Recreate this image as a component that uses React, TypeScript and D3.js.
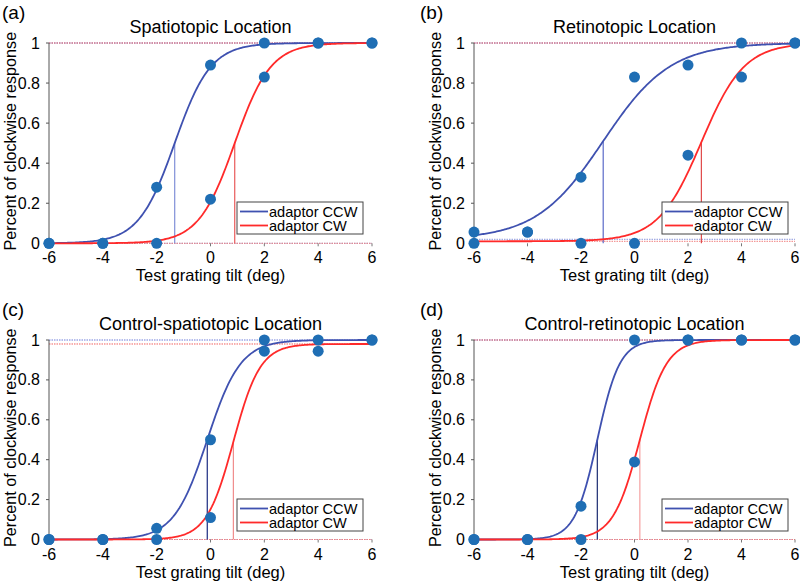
import React from "react";
import * as d3 from "d3";

const xLevels = [-6, -4, -2, 0, 2, 4, 6];
const yTicks = [0, 0.2, 0.4, 0.6, 0.8, 1];
const yTickLabels = ["0", "0.2", "0.4", "0.6", "0.8", "1"];

const panelLetters = ["(a)", "(b)", "(c)", "(d)"];
const panelTitles = ["Spatiotopic Location", "Retinotopic Location", "Control-spatiotopic Location", "Control-retinotopic Location"];

// observed proportions at xLevels
const ccwA = [0, 0, 0.28, 0.89, 1, 1, 1];
const cwA = [0, 0, 0, 0.22, 0.83, 1, 1];
const ccwB = [0.056, 0.056, 0.33, 0.83, 0.89, 1, 1];
const cwB = [0, 0.056, 0, 0, 0.44, 0.83, 1];
const ccwC = [0, 0, 0.056, 0.5, 1, 1, 1];
const cwC = [0, 0, 0, 0.11, 0.944, 0.944, 1];
const ccwD = [0, 0, 0.167, 1, 1, 1, 1];
const cwD = [0, 0, 0, 0.389, 1, 1, 1];
const ccwData = [ccwA, ccwB, ccwC, ccwD];
const cwData = [cwA, cwB, cwC, cwD];

// fitted logistic parameters (PSE, spread, guess rate, lapse rate)
const muCCW = [-1.33, -1.17, -0.12, -1.39];
const muCW = [0.9, 2.5, 0.85, 0.2];
const sCCW = [0.67, 1.25, 0.62, 0.42];
const sCW = [0.67, 0.8, 0.5, 0.5];
const gCCW = [0, 0.02, 0, 0];
const gCW = [0, 0.01, 0, 0];
const lCCW = [0, 0, 0, 0];
const lCW = [0, 0, 0.02, 0];

const legendLabels = ["adaptor CCW", "adaptor CW"];

const BLUE = "#3f51b0";
const RED = "#ff2a2a";
const DOT = "#1f6eb4";
const pseCCWColor = ["#8090d8", "#5a6ac8", "#1a2a80", "#1a2a70"];
const pseCWColor = ["#e85a5a", "#e04848", "#f08c8c", "#f5a0a0"];

const FONT = "'Liberation Sans', Arial, Helvetica, sans-serif";

const offsets = [
  [0, 0],
  [425, 0],
  [0, 297],
  [425, 297],
];

function psy(x: number, mu: number, s: number, g: number, l: number) {
  return g + (1 - g - l) / (1 + Math.exp(-(x - mu) / s));
}

function Panel({ i }: { i: number }) {
  const [ox, oy] = offsets[i];
  const left = 49;
  const right = i % 2 === 0 ? 372 : 370;
  const top = 43;
  const bottom = i < 2 ? 243.3 : 242.5;
  const x = d3.scaleLinear().domain([-6, 6]).range([left, right]);
  const y = d3.scaleLinear().domain([0, 1]).range([bottom, top]);
  const xs = d3.range(-6, 6.0001, 0.05);

  const mk = (mu: number, s: number, g: number, l: number) =>
    d3
      .line<number>()
      .x((d) => x(d))
      .y((d) => y(psy(d, mu, s, g, l)))(xs) as string;

  const ccwPath = mk(muCCW[i], sCCW[i], gCCW[i], lCCW[i]);
  const cwPath = mk(muCW[i], sCW[i], gCW[i], lCW[i]);

  const midX = (left + right) / 2;
  const lgX = 237;
  const lgY = 202;

  return (
    <g transform={`translate(${ox},${oy})`}>
      <text x={i % 2 === 0 ? 2 : -5} y={19} fontSize={19} fontFamily={FONT}>
        {panelLetters[i]}
      </text>
      <text x={midX} y={33} fontSize={18} fontFamily={FONT} textAnchor="middle">
        {panelTitles[i]}
      </text>
      {/* asymptote dotted lines */}
      <line x1={left} x2={right} y1={y(1 - lCCW[i])} y2={y(1 - lCCW[i])} stroke="#6a7ad8" strokeWidth={1} strokeDasharray="1.5,1" />
      <line x1={left} x2={right} y1={y(1 - lCW[i])} y2={y(1 - lCW[i])} stroke="#f06060" strokeWidth={1} strokeDasharray="1.5,1" />
      <line x1={left} x2={right} y1={y(gCCW[i])} y2={y(gCCW[i])} stroke="#8a96dc" strokeWidth={1} strokeDasharray="1.5,1" />
      <line x1={left} x2={right} y1={y(gCW[i])} y2={y(gCW[i])} stroke="#f08080" strokeWidth={1} strokeDasharray="1.5,1" />
      {/* y axis */}
      <line x1={left} x2={left} y1={y(0)} y2={y(1)} stroke="#555" strokeWidth={1} />
      {yTicks.map((t, k) => (
        <g key={k}>
          <line x1={left - 3} x2={left} y1={y(t)} y2={y(t)} stroke="#555" strokeWidth={1} />
          <text x={left - 9} y={y(t) + 5.5} fontSize={16} fontFamily={FONT} textAnchor="end">
            {yTickLabels[k]}
          </text>
        </g>
      ))}
      {/* x ticks */}
      {xLevels.map((t, k) => (
        <g key={k}>
          <line x1={x(t)} x2={x(t)} y1={y(0)} y2={y(0) + 3} stroke="#777" strokeWidth={1} />
          <text x={x(t)} y={y(0) + 20} fontSize={16} fontFamily={FONT} textAnchor="middle">
            {t}
          </text>
        </g>
      ))}
      <text x={midX} y={y(0) + 38} fontSize={16.5} fontFamily={FONT} textAnchor="middle">
        Test grating tilt (deg)
      </text>
      <text
        transform={`translate(16,${(y(0) + y(1)) / 2 - 2}) rotate(-90)`}
        fontSize={16.2}
        fontFamily={FONT}
        textAnchor="middle"
      >
        Percent of clockwise response
      </text>
      {/* PSE lines */}
      <line x1={x(muCCW[i])} x2={x(muCCW[i])} y1={y(0)} y2={y(psy(muCCW[i], muCCW[i], sCCW[i], gCCW[i], lCCW[i]))} stroke={pseCCWColor[i]} strokeWidth={1.2} />
      <line x1={x(muCW[i])} x2={x(muCW[i])} y1={y(0)} y2={y(psy(muCW[i], muCW[i], sCW[i], gCW[i], lCW[i]))} stroke={pseCWColor[i]} strokeWidth={1.2} />
      {/* curves */}
      <path d={ccwPath} fill="none" stroke={BLUE} strokeWidth={1.8} />
      <path d={cwPath} fill="none" stroke={RED} strokeWidth={1.8} />
      {/* points */}
      {ccwData[i].map((v, k) => (
        <circle key={"a" + k} cx={x(xLevels[k])} cy={y(v)} r={5.5} fill={DOT} />
      ))}
      {cwData[i].map((v, k) => (
        <circle key={"b" + k} cx={x(xLevels[k])} cy={y(v)} r={5.5} fill={DOT} />
      ))}
      {/* legend */}
      <g transform={`translate(${lgX},${lgY})`}>
        <rect x={0} y={0} width={126} height={32} fill="white" stroke="#444" strokeWidth={1} />
        <line x1={3} x2={31} y1={9.5} y2={9.5} stroke={BLUE} strokeWidth={1.8} />
        <line x1={3} x2={31} y1={23.5} y2={23.5} stroke={RED} strokeWidth={1.8} />
        <text x={32} y={14.5} fontSize={14.6} fontFamily={FONT}>
          {legendLabels[0]}
        </text>
        <text x={32} y={29} fontSize={14.6} fontFamily={FONT}>
          {legendLabels[1]}
        </text>
      </g>
    </g>
  );
}

export default function App() {
  return (
    <svg width={800} height={582} style={{ position: "absolute", left: 0, top: 0, background: "white" }}>
      {[0, 1, 2, 3].map((i) => (
        <Panel key={i} i={i} />
      ))}
    </svg>
  );
}
